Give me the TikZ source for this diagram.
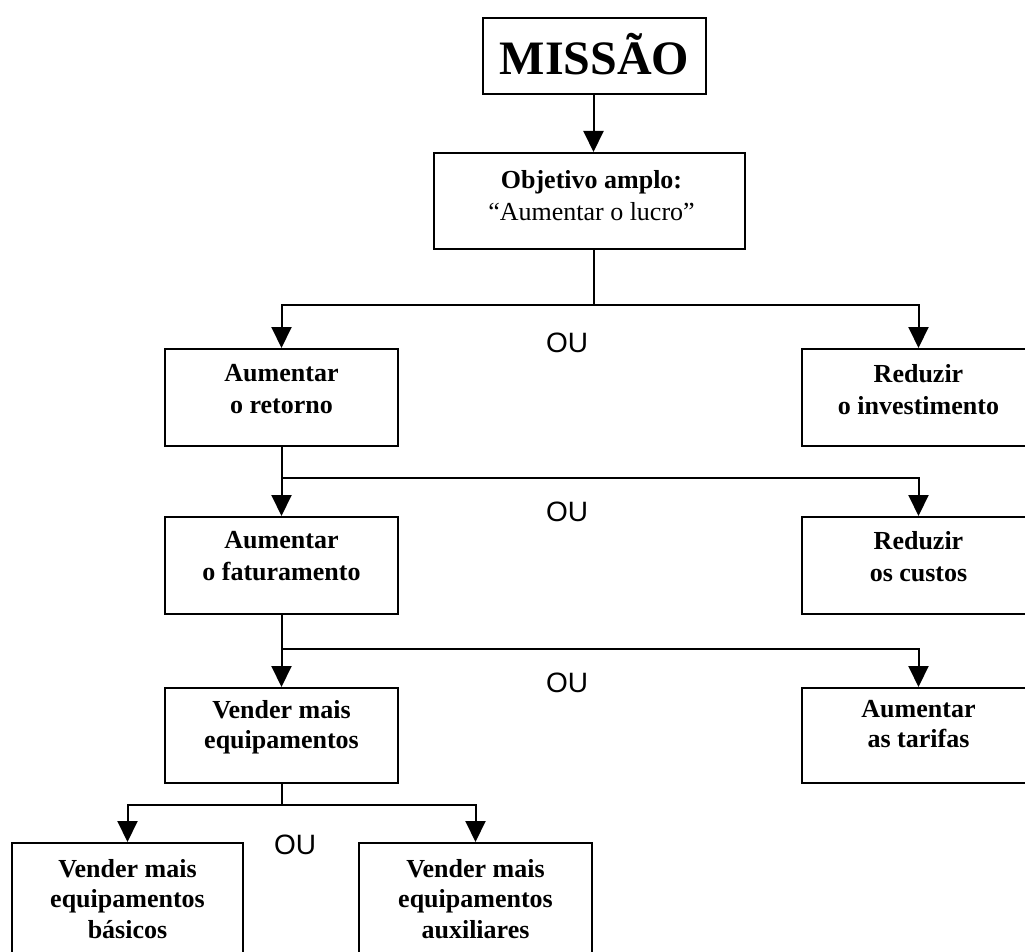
\documentclass[tikz,border=0pt]{standalone}
\usepackage{fontspec}
\setmainfont{Liberation Serif}
\newfontfamily\ousans{Liberation Sans}
\usetikzlibrary{arrows.meta}
\begin{document}
\begin{tikzpicture}[x=1pt,y=-1pt,
  box/.style={draw, line width=2.4pt, minimum width=233pt, minimum height=97pt, inner sep=0pt, anchor=north},
  txt/.style={anchor=north, inner sep=0pt, align=center, font=\bfseries\fontsize{26}{32}\selectfont},
  txtb/.style={anchor=north, inner sep=0pt, align=center, font=\bfseries\fontsize{26}{30.5}\selectfont},
  conn/.style={line width=2pt},
  arr/.style={line width=2pt, -{Triangle[length=21pt,width=20pt]}},
  ou/.style={inner sep=0pt, font=\ousans\fontsize{28}{30}\selectfont}
]
\useasboundingbox (0,0) rectangle (1025,952);
\clip (0,0) rectangle (1025,952);

% boxes
\node[box, minimum width=223pt, minimum height=76pt] (mis) at (594.5,17) {};
\node[box, minimum width=311pt, minimum height=96pt] (obj) at (589.5,152) {};
\node[box] (ret) at (281.5,348) {};
\node[box] (inv) at (918.5,348) {};
\node[box] (fat) at (281.5,516) {};
\node[box] (cus) at (918.5,516) {};
\node[box, minimum height=95pt] (ven) at (281.5,687) {};
\node[box, minimum height=95pt] (tar) at (918.5,687) {};
\node[box, minimum width=231pt, minimum height=130pt] (bas) at (127.5,842) {};
\node[box, minimum height=130pt] (aux) at (475.5,842) {};

% connectors
\coordinate (j1) at (593.5,305);
\coordinate (j2) at (281.5,478);
\coordinate (j3) at (281.5,649);
\coordinate (j4) at (281.5,805);
\draw[arr] (j1 |- mis.south) -- (j1 |- obj.north);
\draw[conn] (j1 |- obj.south) -- (j1);
\draw[arr] (j1) -| (ret.north);
\draw[arr] (j1) -| (inv.north);
\draw[arr] (ret.south) -- (fat.north);
\draw[arr] (j2) -| (cus.north);
\draw[arr] (fat.south) -- (ven.north);
\draw[arr] (j3) -| (tar.north);
\draw[conn] (ven.south) -- (j4);
\draw[arr] (j4) -| (bas.north);
\draw[arr] (j4) -| (aux.north);

% texts
\node[anchor=base, inner sep=0pt, font=\bfseries\fontsize{48}{50}\selectfont] (misT) at (594.5,75) {MISSÃO};
\node[txt] (objT) at (591.5,170) {Objetivo amplo:\\{\mdseries “Aumentar o lucro”}};
\node[txt] (retT) at (281.5,364) {Aumentar\\o retorno};
\node[txt] (invT) at (918.5,364) {Reduzir\\o investimento};
\node[txt] (fatT) at (281.5,531) {Aumentar\\o faturamento};
\node[txt] (cusT) at (918.5,531) {Reduzir\\os custos};
\node[txtb] (venT) at (281.5,700) {Vender mais\\equipamentos};
\node[txtb] (tarT) at (918.5,700) {Aumentar\\as tarifas};
\node[txtb] (basT) at (127.5,859) {Vender mais\\equipamentos\\básicos};
\node[txtb] (auxT) at (475.5,859) {Vender mais\\equipamentos\\auxiliares};

\node[ou] (ou1) at (567,343) {OU};
\node[ou] (ou2) at (567,512) {OU};
\node[ou] (ou3) at (567,683) {OU};
\node[ou] (ou4) at (295,845) {OU};
\end{tikzpicture}
\end{document}
